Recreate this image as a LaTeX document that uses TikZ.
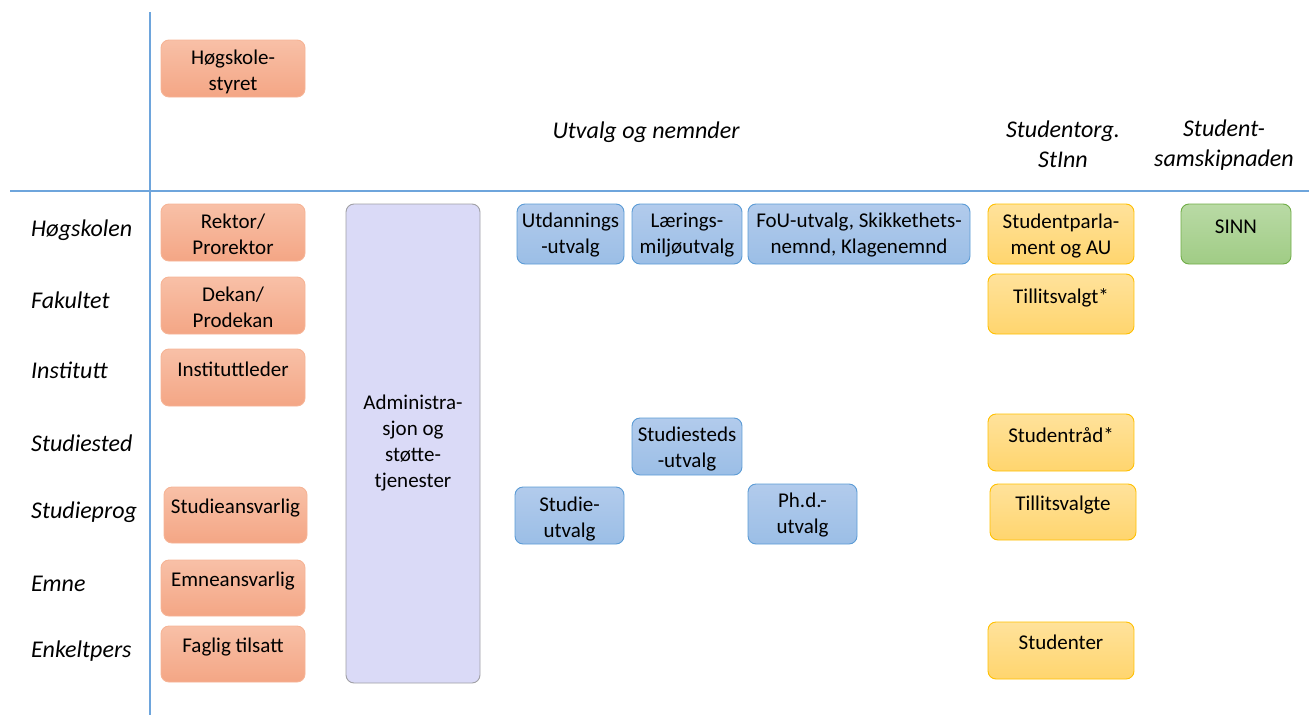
\documentclass[tikz,border=0pt]{standalone}
\usepackage{fontspec}
\setmainfont{Carlito}
\newcommand{\ml}[1]{\begin{tabular}[t]{@{}c@{}}#1\end{tabular}}
\begin{document}
\begin{tikzpicture}[x=1pt,y=-1pt,
  every node/.style={font=\fontsize{21}{26}\selectfont},
  box/.style={rectangle, rounded corners=8pt, inner sep=0pt, line width=0.9pt},
  obox/.style={box, draw=orangeB, top color=orangeT, bottom color=orangeD},
  bbox/.style={box, draw=blueB, top color=blueT, bottom color=blueD},
  ybox/.style={box, draw=yelB, top color=yelT, bottom color=yelD},
  gbox/.style={box, draw=greenB, top color=greenT, bottom color=greenD},
  pbox/.style={box, draw=purpB, fill=purpF},
  txt/.style={anchor=base, inner sep=0pt},
  rowlab/.style={anchor=west, inner sep=0pt, font=\fontsize{24}{29}\selectfont\itshape},
  headlab/.style={align=center, font=\fontsize{24}{30}\selectfont\itshape},
  grid/.style={draw=gridC, line width=1.3pt}]
\definecolor{orangeB}{RGB}{246,180,150}
\definecolor{orangeT}{RGB}{248,192,167}
\definecolor{orangeD}{RGB}{244,166,133}
\definecolor{blueB}{RGB}{91,155,213}
\definecolor{blueT}{RGB}{178,203,236}
\definecolor{blueD}{RGB}{155,190,230}
\definecolor{yelB}{RGB}{255,192,0}
\definecolor{yelT}{RGB}{255,226,155}
\definecolor{yelD}{RGB}{255,213,110}
\definecolor{greenB}{RGB}{112,173,71}
\definecolor{greenT}{RGB}{185,218,165}
\definecolor{greenD}{RGB}{160,204,133}
\definecolor{purpB}{RGB}{160,160,165}
\definecolor{purpF}{RGB}{218,218,247}
\definecolor{gridC}{RGB}{110,165,220}
\useasboundingbox (0,0) rectangle (1309,715);

% grid lines
\coordinate (vt) at (150,12);
\coordinate (vb) at (150,715);
\coordinate (hl) at (10,191);
\coordinate (hr) at (1309,191);
\draw[grid] (vt) -- (vb);
\draw[grid] (hl) -- (hr);

% headers
\node[headlab] (hutv) at (646,132) {Utvalg og nemnder};
\node[headlab] (hstud) at (1063,144) {Studentorg.\\StInn};
\node[headlab] (hsam) at (1224,145) {Student-\\samskipnaden};

% row labels
\node[rowlab] (r1) at (31,230) {Høgskolen};
\node[rowlab] (r2) at (31,300) {Fakultet};
\node[rowlab] (r3) at (31,370) {Institutt};
\node[rowlab] (r4) at (31,443) {Studiested};
\node[rowlab] (r5) at (31,512) {Studieprog};
\node[rowlab] (r6) at (31,584) {Emne};
\node[rowlab] (r7) at (31,651) {Enkeltpers};

% leadership column
\node[obox, minimum width=144, minimum height=57] (styret) at (233,68.5) {};
\node[txt] (styret-t) at (233,64) {\ml{Høgskole-\\styret}};
\node[obox, minimum width=144, minimum height=57] (rektor) at (233,232.5) {};
\node[txt] (rektor-t) at (233,228) {\ml{Rektor/\\Prorektor}};
\node[obox, minimum width=144, minimum height=57] (dekan) at (233,305.5) {};
\node[txt] (dekan-t) at (233,301) {\ml{Dekan/\\Prodekan}};
\node[obox, minimum width=144, minimum height=57] (instl) at (233,377.5) {};
\node[txt] (instl-t) at (233,376) {Instituttleder};
\node[obox, minimum width=143, minimum height=56] (stansv) at (235.5,515) {};
\node[txt] (stansv-t) at (235.5,513) {Studieansvarlig};
\node[obox, minimum width=144, minimum height=56] (emansv) at (233,588) {};
\node[txt] (emansv-t) at (233,586) {Emneansvarlig};
\node[obox, minimum width=144, minimum height=56] (faglig) at (233,654) {};
\node[txt] (faglig-t) at (233,652) {Faglig tilsatt};

% administration
\node[pbox, minimum width=134, minimum height=479] (admin) at (413,443.5) {};
\node[txt] (admin-t) at (413,409) {\ml{Administra-\\sjon og\\støtte-\\tjenester}};

% committees
\node[bbox, minimum width=107, minimum height=60] (utd) at (570.5,234) {};
\node[txt] (utd-t) at (570.5,227) {\ml{Utdannings\\-utvalg}};
\node[bbox, minimum width=110, minimum height=60] (laer) at (687,234) {};
\node[txt] (laer-t) at (687,227) {\ml{Lærings-\\miljøutvalg}};
\node[bbox, minimum width=222, minimum height=60] (fou) at (859,234) {};
\node[txt] (fou-t) at (859,227) {\ml{FoU-utvalg, Skikkethets-\\nemnd, Klagenemnd}};
\node[bbox, minimum width=110, minimum height=57] (stedutv) at (687,446.5) {};
\node[txt] (stedutv-t) at (687,441) {\ml{Studiesteds\\-utvalg}};
\node[bbox, minimum width=109, minimum height=57] (studutv) at (569.5,515.5) {};
\node[txt] (studutv-t) at (569.5,511) {\ml{Studie-\\utvalg}};
\node[bbox, minimum width=109, minimum height=60] (phd) at (802.5,514) {};
\node[txt] (phd-t) at (802.5,507) {\ml{Ph.d.-\\utvalg}};

% student organisation
\node[ybox, minimum width=146, minimum height=60] (sp) at (1061,234) {};
\node[txt] (sp-t) at (1061,228) {\ml{Studentparla-\\ment og AU}};
\node[ybox, minimum width=146, minimum height=60] (tillit) at (1061,304) {};
\node[txt] (tillit-t) at (1061,303) {Tillitsvalgt*};
\node[ybox, minimum width=146, minimum height=57] (sraad) at (1061,442.5) {};
\node[txt] (sraad-t) at (1061,442) {Studentråd*};
\node[ybox, minimum width=146, minimum height=56] (tillit2) at (1063,512) {};
\node[txt] (tillit2-t) at (1063,510) {Tillitsvalgte};
\node[ybox, minimum width=146, minimum height=57] (studenter) at (1061,650.5) {};
\node[txt] (studenter-t) at (1061,649) {Studenter};

% SINN
\node[gbox, minimum width=110, minimum height=60] (sinn) at (1236,234) {};
\node[txt] (sinn-t) at (1236,233) {SINN};
\end{tikzpicture}
\end{document}
